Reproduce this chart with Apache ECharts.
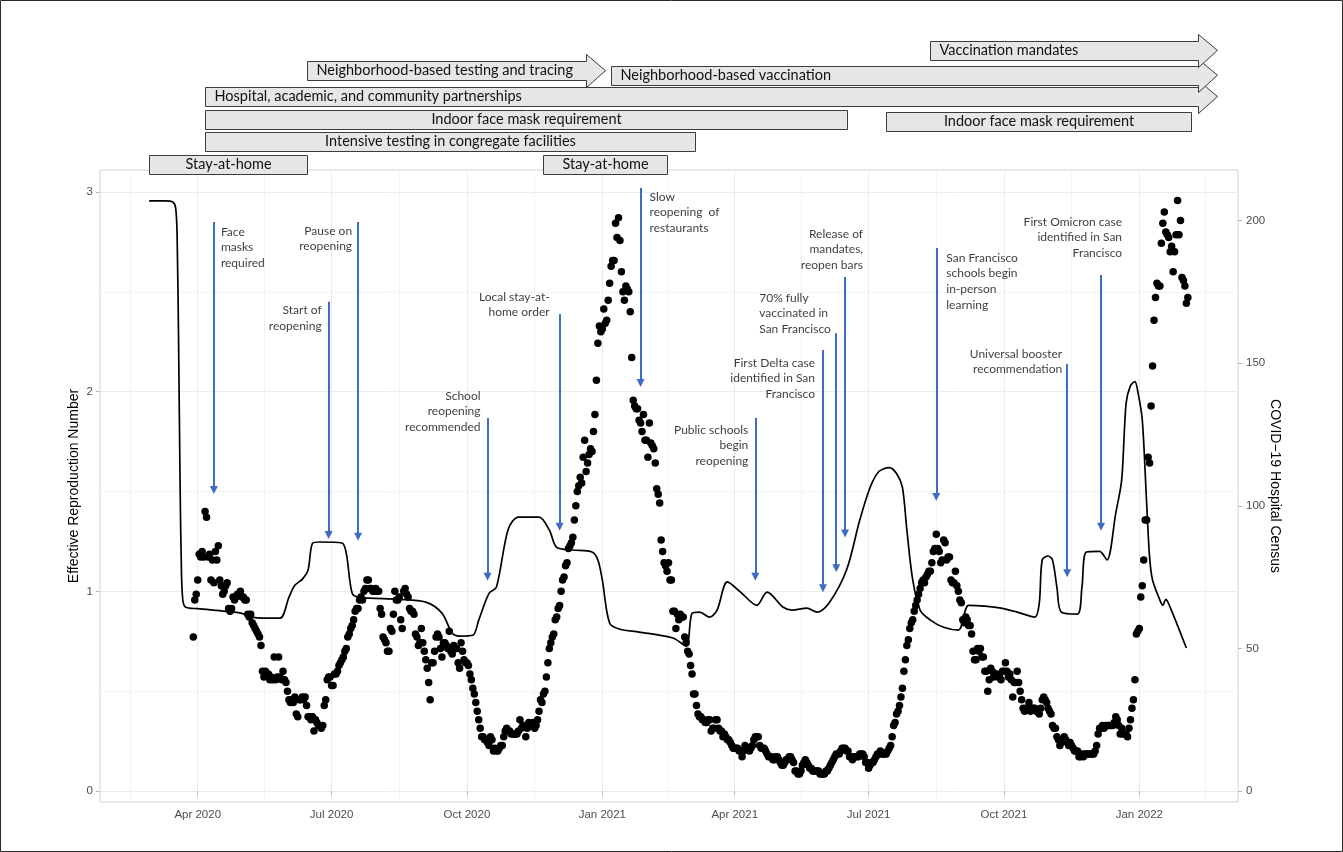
<!DOCTYPE html>
<html>
<head>
<meta charset="utf-8">
<script src="https://cdn.jsdelivr.net/npm/echarts@6/dist/echarts.min.js"></script>
<style>
  html, body { margin: 0; padding: 0; background: #ffffff; }
  #chart { width: 1343px; height: 852px; }
</style>
</head>
<body>
<div id="chart"></div>
<script>
// ---------------------------------------------------------------------------
// Data
// ---------------------------------------------------------------------------

// Quarterly date breaks on the time axis and the minor breaks between them
const xTickDates  = ['2020-04-01', '2020-07-01', '2020-10-01', '2021-01-01',
                     '2021-04-01', '2021-07-01', '2021-10-01', '2022-01-01'];
const xMinorDates = ['2020-02-15', '2020-05-16', '2020-08-16', '2020-11-16', '2021-02-15',
                     '2021-05-16', '2021-08-16', '2021-11-16', '2022-02-15'];
const rtTicks     = [0, 1, 2, 3];
const rtMinor     = [0.5, 1.5, 2.5];
const censusTicks = [0, 50, 100, 150, 200];

// Effective reproduction number (smoothed estimate)
const rtDates = ['2020-02-28','2020-03-10','2020-03-15','2020-03-17','2020-03-18','2020-03-19','2020-03-20',
  '2020-03-21','2020-03-22','2020-03-24','2020-04-01','2020-04-20','2020-05-01','2020-05-08',
  '2020-05-15','2020-05-27','2020-06-02','2020-06-06','2020-06-11','2020-06-15','2020-06-18','2020-06-23',
  '2020-07-08','2020-07-11','2020-07-15','2020-07-20','2020-08-15','2020-09-03','2020-09-14','2020-09-21',
  '2020-09-26','2020-10-05','2020-10-09','2020-10-16','2020-10-21','2020-10-29','2020-11-05','2020-11-19',
  '2020-11-26','2020-12-01','2020-12-12','2020-12-25','2020-12-29','2021-01-01','2021-01-06','2021-01-13',
  '2021-01-26','2021-02-18','2021-02-27','2021-03-03','2021-03-08','2021-03-15','2021-03-20','2021-03-27',
  '2021-04-05','2021-04-16','2021-04-23','2021-05-04','2021-05-10','2021-05-20','2021-05-27','2021-06-04',
  '2021-06-16','2021-06-25','2021-07-02','2021-07-08','2021-07-15','2021-07-20','2021-07-24','2021-07-27',
  '2021-07-31','2021-08-05','2021-08-12','2021-08-21','2021-08-31','2021-09-07','2021-09-18','2021-09-29',
  '2021-10-10','2021-10-22','2021-10-25','2021-10-27','2021-10-31','2021-11-03','2021-11-06','2021-11-09',
  '2021-11-20','2021-11-23','2021-11-26','2021-12-05','2021-12-10','2021-12-16','2021-12-20','2021-12-23',
  '2021-12-26','2021-12-29','2021-12-31','2022-01-03','2022-01-06','2022-01-08','2022-01-10','2022-01-15',
  '2022-01-17','2022-01-19','2022-01-22','2022-02-02'];
const rtValues = [2.955,2.955,2.95,2.92,2.78,2.25,1.55,
  1.08,0.95,0.92,0.913,0.9,0.89,0.871,
  0.866,0.866,0.97,1.03,1.06,1.107,1.24,1.247,
  1.242,1.19,0.99,0.97,0.96,0.946,0.891,0.79,
  0.776,0.78,0.856,0.99,1.02,1.31,1.372,1.372,
  1.307,1.22,1.207,1.197,1.157,1.057,0.84,0.81,
  0.796,0.766,0.726,0.89,0.896,0.871,0.906,1.047,
  0.996,0.93,0.996,0.92,0.906,0.916,0.896,0.94,
  1.107,1.357,1.52,1.6,1.62,1.59,1.52,1.307,
  1.057,0.906,0.856,0.82,0.806,0.93,0.926,0.916,
  0.896,0.871,0.94,1.157,1.177,1.157,1.02,0.896,
  0.886,1.02,1.197,1.2,1.157,1.392,1.557,1.94,
  2.03,2.05,2.0,1.86,1.44,1.17,1.057,0.956,
  0.93,0.96,0.92,0.716];

// Daily COVID-19 hospital census, one value per day from censusStart
const censusStart = '2020-03-29';
const census2020 = [
  54, 67, 69,
  74, 83, 82, 84, 82, 98, 96, 82, 83, 74, 81, 73, 84, 81, 86, 74, 72, 69, 70, 72, 73, 64, 63, 64, 68, 67, 68, 69, 69, 70,
  68, 68, 67, 67, 62, 61, 62, 59, 58, 57, 56, 55, 54, 51, 42, 40, 42, 41, 41, 39, 40, 39, 47, 39, 40, 47, 40, 39, 42, 39, 38,
  35, 32, 31, 32, 31, 33, 27, 26, 32, 32, 33, 32, 33, 30, 26, 26, 25, 26, 21, 25, 24, 23, 23, 22, 23, 30, 32, 39, 40, 40,
  37, 37, 41, 41, 42, 44, 45, 46, 47, 49, 50, 54, 55, 57, 58, 60, 63, 64, 64, 67, 68, 67, 70, 71, 74, 74, 71, 71, 70, 70, 71,
  70, 70, 64, 62, 54, 53, 52, 49, 49, 57, 56, 62, 70, 67, 67, 68, 60, 57, 70, 71, 69, 68, 64, 63, 63, 62, 55, 54, 51, 52, 57,
  52, 49, 46, 43, 38, 32, 45, 45, 49, 54, 55, 54, 50, 47, 52, 52, 51, 50, 56, 49, 48, 51, 50, 50, 45, 43, 52, 49, 46, 45,
  45, 44, 41, 39, 36, 34, 31, 28, 25, 22, 19, 19, 18, 18, 17, 16, 19, 18, 14, 15, 14, 14, 15, 16, 16, 19, 21, 22, 21, 21, 20,
  20, 20, 20, 20, 21, 25, 22, 23, 23, 19, 22, 24, 23, 23, 24, 22, 23, 25, 28, 32, 31, 34, 35, 40, 45, 50, 52, 54, 55, 60,
  61, 64, 65, 70, 74, 75, 79, 80, 85, 86, 87, 89, 95, 100, 105, 107, 110, 108, 117, 123, 112, 115, 118, 120, 119, 126, 132, 144, 157, 163, 161
];
const census2021 = [
  162, 169, 164, 165, 172, 178, 184, 186, 186, 199, 194, 201, 193, 182, 175, 172, 177, 176, 175, 168, 152, 137, 135, 134, 134, 130, 129, 126, 132, 123, 123,
  117, 129, 122, 121, 120, 115, 106, 104, 101, 88, 84, 80, 79, 77, 80, 74, 74, 63, 63, 57, 62, 60, 62, 61, 61, 54, 52, 49,
  48, 44, 41, 34, 34, 30, 27, 26, 26, 25, 25, 24, 24, 25, 25, 21, 22, 22, 25, 25, 22, 21, 21, 19, 20, 19, 18, 18, 17, 16, 15,
  15, 15, 15, 14, 14, 12, 14, 16, 15, 15, 14, 15, 16, 18, 19, 19, 19, 16, 15, 15, 15, 14, 13, 12, 12, 12, 11, 11, 12, 12,
  11, 10, 9, 9, 10, 11, 11, 12, 12, 11, 10, 7, 7, 6, 6, 7, 9, 10, 11, 10, 9, 8, 8, 7, 7, 7, 7, 7, 6, 6, 6,
  6, 7, 7, 8, 9, 10, 11, 12, 13, 13, 13, 14, 15, 15, 15, 14, 14, 12, 12, 11, 12, 12, 12, 12, 13, 13, 13, 12, 10, 10,
  8, 9, 10, 10, 11, 12, 13, 13, 14, 13, 13, 13, 13, 14, 15, 16, 19, 23, 24, 27, 28, 30, 33, 36, 42, 46, 51, 53, 57, 59, 60,
  63, 65, 67, 69, 71, 73, 74, 73, 75, 76, 77, 77, 80, 84, 85, 90, 85, 84, 80, 81, 88, 87, 81, 82, 82, 74, 73, 73, 77, 72, 70,
  67, 66, 60, 59, 61, 60, 58, 58, 55, 49, 46, 46, 50, 49, 50, 47, 47, 42, 42, 35, 39, 43, 42, 40, 41, 41, 40, 40, 39, 42,
  42, 45, 42, 40, 41, 39, 33, 38, 38, 42, 38, 35, 32, 29, 28, 29, 29, 31, 28, 29, 29, 29, 28, 28, 27, 29, 32, 33, 32, 31, 29,
  28, 27, 23, 22, 22, 19, 18, 16, 17, 18, 19, 18, 17, 16, 17, 16, 15, 14, 14, 14, 12, 12, 13, 12, 13, 13, 13, 13, 13, 13,
  13, 14, 16, 20, 22, 22, 23, 22, 23, 23, 23, 23, 23, 23, 24, 26, 25, 23, 20, 22, 20, 20, 20, 19, 22, 25, 29, 32, 39, 55, 56
];
const census2022 = [
  57, 68, 72, 81, 95, 95, 117, 115, 135, 149, 165, 173, 178, 177, 177, 192, 199, 203, 196, 195, 194, 189, 191, 182, 189, 195, 207, 195, 200, 180, 179,
  177, 171, 173
];

// Policy events marked with arrows
const annotDates = ['2020-04-12', '2020-06-29', '2020-07-19', '2020-10-15', '2020-12-03', '2021-01-27', '2021-04-15',
                    '2021-05-31', '2021-06-09', '2021-06-15', '2021-08-16', '2021-11-13', '2021-12-06'];
const annotTexts = ['Face\nmasks\nrequired', 'Start of\nreopening', 'Pause on\nreopening',
                    'School\nreopening\nrecommended', 'Local stay-at-\nhome order', 'Slow\nreopening  of\nrestaurants',
                    'Public schools\nbegin\nreopening', 'First Delta case\nidentified in San\nFrancisco',
                    '70% fully\nvaccinated in\nSan Francisco', 'Release of\nmandates,\nreopen bars',
                    'San Francisco\nschools begin\nin-person\nlearning', 'Universal booster\nrecommendation',
                    'First Omicron case\nidentified in San\nFrancisco'];
const annotTop = [2.849, 2.45, 2.85, 1.868, 2.389, 3.02, 1.868, 2.208, 2.293, 2.574, 2.719, 2.138, 2.584];
const annotTip = [1.507, 1.282, 1.273, 1.073, 1.324, 2.043, 1.073, 1.015, 1.115, 1.29, 1.472, 1.09, 1.324];

// Intervention periods shown above the chart
const tlNames = ['Hospital, academic, and community partnerships', 'Neighborhood-based testing and tracing',
                 'Neighborhood-based vaccination', 'Vaccination mandates', 'Indoor face mask requirement',
                 'Indoor face mask requirement', 'Intensive testing in congregate facilities',
                 'Stay-at-home', 'Stay-at-home'];
const tlStart = ['2020-04-06', '2020-06-14', '2021-01-07', '2021-08-12', '2020-04-06',
                 '2021-07-13', '2020-04-06', '2020-02-28', '2020-11-22'];
const tlEnd   = ['2022-02-23', '2021-01-03', '2022-02-23', '2022-02-23', '2021-06-16',
                 '2022-02-05', '2021-03-05', '2020-06-14', '2021-02-14'];
const tlLane  = [3, 4.15, 3.95, 5.05, 2, 1.9, 1, 0, 0];
const tlArrow = [true, true, true, true, false, false, false, false, false];

// ---------------------------------------------------------------------------
// Layout and style
// ---------------------------------------------------------------------------
const DAY = 86400000;
const ts = s => Date.parse(s.length > 10 ? s : s + 'T00:00:00Z');
const MONTHS = ['Jan','Feb','Mar','Apr','May','Jun','Jul','Aug','Sep','Oct','Nov','Dec'];
const X_MIN = ts('2020-01-25T14:00:00Z');
const X_MAX = ts('2022-03-09T02:00:00Z');
const RT_MIN = -0.055, RT_MAX = 3.11, CENSUS_SCALE = 70;

// label placement of each event text: [align, dx, dy] from the top of its arrow
const annotLabelPos = [['left', 7, 2], ['right', -7, 1], ['right', -6, 1], ['right', -7, -30],
                       ['right', -10, -25], ['left', 9, 1], ['right', -7, 4], ['right', -8, 5],
                       ['left', -77, -43], ['right', 18, -51], ['left', 10, 2], ['right', -5, -18],
                       ['right', 21, -61]];
const tlTextAlign = ['left', 'left', 'left', 'left', 'center', 'center', 'center', 'center', 'center'];

const NOTE_FONT = 'Lato, "Open Sans", sans-serif';
const AXIS_FONT = '"Liberation Sans", Arial, sans-serif';
const GRID_MAJOR = '#ebebeb';
const GRID_MINOR = '#f4f4f4';
const ARROW_BLUE = '#3e6cc4';

const census = census2020.concat(census2021, census2022);
const censusData = census.map((v, i) => [ts(censusStart) + i * DAY, v]);
const rtData = rtDates.map((d, i) => [ts(d), rtValues[i]]);

const fmtMonth = v => { const d = new Date(v); return MONTHS[d.getUTCMonth()] + ' ' + d.getUTCFullYear(); };

const chart = echarts.init(document.getElementById('chart'), null, { renderer: 'canvas' });

const option = {
  animation: false,
  backgroundColor: '#ffffff',
  graphic: [{
    type: 'rect', silent: true, z: 100,
    shape: { x: 0.5, y: 0.5, width: 1342, height: 851 },
    style: { fill: 'none', stroke: '#2b2b2b', lineWidth: 1 }
  }],
  grid: [
    { left: 100, top: 170, width: 1138, height: 632, show: true, backgroundColor: '#ffffff',
      borderColor: '#d2d2d2', borderWidth: 1, outerBoundsMode: 'none', containLabel: false },
    { left: 100, top: 38, width: 1138, height: 137.25, show: false, outerBoundsMode: 'none', containLabel: false }
  ],
  xAxis: [
    { type: 'value', gridIndex: 0, min: X_MIN, max: X_MAX, position: 'bottom',
      axisLine: { show: false },
      axisTick: { show: true, length: 4, lineStyle: { color: '#b8b8b8', width: 1 },
                  customValues: xTickDates.map(ts) },
      axisLabel: { show: true, customValues: xTickDates.map(ts), formatter: fmtMonth,
                   color: '#4d4d4d', fontSize: 11.5, fontFamily: AXIS_FONT, margin: 7 },
      splitLine: { show: true, lineStyle: { color: GRID_MAJOR, width: 1 } } },
    { type: 'value', gridIndex: 0, min: X_MIN, max: X_MAX, position: 'bottom',
      axisLine: { show: false }, axisLabel: { show: false },
      axisTick: { show: false, customValues: xMinorDates.map(ts) },
      splitLine: { show: true, lineStyle: { color: GRID_MINOR, width: 1 } } },
    { type: 'value', gridIndex: 1, min: X_MIN, max: X_MAX, show: false,
      splitLine: { show: false } }
  ],
  yAxis: [
    { type: 'value', gridIndex: 0, min: RT_MIN, max: RT_MAX, position: 'left',
      name: 'Effective Reproduction Number', nameLocation: 'middle', nameGap: 19, nameRotate: 90,
      nameMoveOverlap: false,
      nameTextStyle: { color: '#000', fontSize: 14, fontFamily: AXIS_FONT },
      axisLine: { show: false },
      axisTick: { show: true, length: 4, lineStyle: { color: '#b8b8b8' }, customValues: rtTicks },
      axisLabel: { customValues: rtTicks, color: '#4d4d4d', fontSize: 11.5, fontFamily: AXIS_FONT, margin: 7 },
      splitLine: { show: true, lineStyle: { color: GRID_MAJOR, width: 1 } } },
    { type: 'value', gridIndex: 0, min: RT_MIN * CENSUS_SCALE, max: RT_MAX * CENSUS_SCALE, position: 'right',
      name: 'COVID\u221219 Hospital Census', nameLocation: 'middle', nameGap: 30, nameRotate: -90,
      nameMoveOverlap: false,
      nameTextStyle: { color: '#000', fontSize: 14, fontFamily: AXIS_FONT },
      axisLine: { show: false },
      axisTick: { show: true, length: 4, lineStyle: { color: '#b8b8b8' }, customValues: censusTicks },
      axisLabel: { customValues: censusTicks, color: '#4d4d4d', fontSize: 11.5, fontFamily: AXIS_FONT, margin: 8 },
      splitLine: { show: false } },
    { type: 'value', gridIndex: 0, min: RT_MIN, max: RT_MAX, position: 'left',
      axisLine: { show: false }, axisLabel: { show: false },
      axisTick: { show: false, customValues: rtMinor },
      splitLine: { show: true, lineStyle: { color: GRID_MINOR, width: 1 } } },
    { type: 'value', gridIndex: 1, min: -0.5, max: 5.6, show: false, splitLine: { show: false } }
  ],
  series: [
    {
      name: 'COVID-19 Hospital Census', type: 'scatter', xAxisIndex: 0, yAxisIndex: 1,
      data: censusData, symbol: 'circle', symbolSize: 7.5, silent: true, z: 3,
      itemStyle: { color: '#000000', opacity: 1 }
    },
    {
      name: 'Effective Reproduction Number', type: 'line', xAxisIndex: 0, yAxisIndex: 0,
      data: rtData, showSymbol: false, smooth: 0.3, silent: true, z: 4,
      lineStyle: { color: '#000000', width: 1.7 }
    },
    {
      name: 'Events', type: 'scatter', xAxisIndex: 0, yAxisIndex: 0, silent: true, z: 6,
      symbolSize: 0, itemStyle: { color: 'rgba(0,0,0,0)' },
      data: annotDates.map((d, i) => ({
        value: [ts(d), annotTop[i]],
        label: {
          show: true, formatter: annotTexts[i],
          position: [annotLabelPos[i][1], annotLabelPos[i][2]],
          align: annotLabelPos[i][0], verticalAlign: 'top',
          fontFamily: NOTE_FONT, fontSize: 12, lineHeight: 15.6, color: '#0a0a0a'
        }
      })),
      markLine: {
        silent: true, animation: false,
        symbol: ['none', 'triangle'], symbolSize: [8, 8],
        lineStyle: { color: ARROW_BLUE, width: 2, type: 'solid' },
        label: { show: false },
        emphasis: { disabled: true },
        data: annotDates.map((d, i) => [
          { coord: [ts(d), annotTop[i]] },
          { coord: [ts(d), annotTip[i]] }
        ])
      }
    },
    {
      name: 'Interventions', type: 'custom', xAxisIndex: 2, yAxisIndex: 3, silent: true, clip: false, z: 5,
      data: tlStart.map((s, i) => [ts(s), ts(tlEnd[i]), tlLane[i]]),
      encode: { x: [0, 1], y: 2 },
      renderItem: (params, api) => {
        const i = params.dataIndex;
        const p0 = api.coord([api.value(0), api.value(2)]);
        const p1 = api.coord([api.value(1), api.value(2)]);
        const x0 = Math.round(p0[0]) + 0.5, x1 = Math.round(p1[0]) + 0.5, yc = p0[1];
        const half = 9.5;
        const top = Math.round(yc - half) + 0.5, bot = Math.round(yc + half) + 0.5;
        let shape;
        if (tlArrow[i]) {
          const head = 19, ex = 7, xh = x1 - head;
          shape = {
            type: 'polygon',
            shape: { points: [[x0, top], [xh, top], [xh, top - ex], [x1, yc], [xh, bot + ex], [xh, bot], [x0, bot]] },
            style: { fill: '#e6e6e6', stroke: '#3c3c3c', lineWidth: 1 }
          };
        } else {
          shape = {
            type: 'rect',
            shape: { x: x0, y: top, width: x1 - x0, height: bot - top },
            style: { fill: '#e6e6e6', stroke: '#3c3c3c', lineWidth: 1 }
          };
        }
        const align = tlTextAlign[i];
        const text = {
          type: 'text',
          style: {
            text: tlNames[i], x: align === 'center' ? (x0 + x1) / 2 : x0 + 9, y: yc,
            align: align, verticalAlign: 'middle',
            fontFamily: NOTE_FONT, fontSize: 14.5, fill: '#111111'
          }
        };
        return { type: 'group', children: [shape, text] };
      }
    }
  ]
};

chart.setOption(option);
</script>
</body>
</html>
